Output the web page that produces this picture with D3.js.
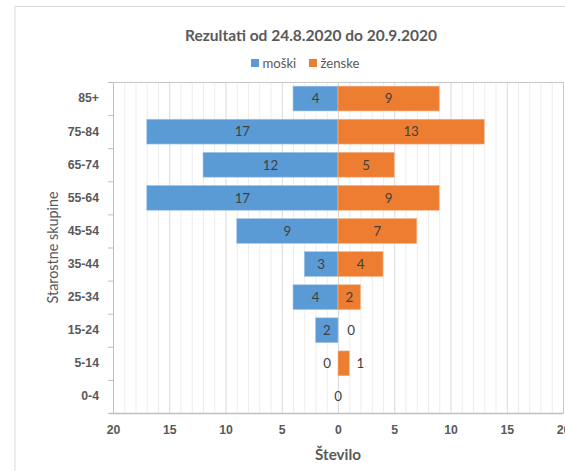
<!DOCTYPE html>
<html><head><meta charset="utf-8">
<script src="https://cdn.jsdelivr.net/npm/d3@7"></script>
<style>body{margin:0;background:#fff}svg{display:block;font-family:Lato,"Open Sans","Liberation Sans",sans-serif}</style>
</head><body><svg id="c" width="565" height="471"></svg>
<script>
const categories = ["85+","75-84","65-74","55-64","45-54","35-44","25-34","15-24","5-14","0-4"];
const moski  = [4,17,12,17,9,3,4,2,0,null];
const zenske = [9,13,5,9,7,4,2,0,1,0];
const xTicks = [-20,-15,-10,-5,0,5,10,15,20];
const title = "Rezultati od 24.8.2020 do 20.9.2020";
const seriesNames = ["moški","ženske"];
const colors = ["#5B9BD5","#ED7D31"];

const svg = d3.select("#c");
// font size so that a sample string reaches a given width
function fit(sample, weight, w){
  const t = svg.append("text").attr("font-size",100).attr("font-weight",weight).text(sample);
  const len = t.node().getComputedTextLength(); t.remove();
  return 100*w/len;
}
const fsTitle = fit(title,"bold",252);
const fsTick = fit("75-84","bold",33);
const fsLeg = fit("ženske","normal",39);
const fsLab = fit("17","normal",15.5);
const fsXT = fit("Število","bold",46);
const fsYT = fit("Starostne skupine","normal",112);

const L=113, R=563, T=82, B=413;
const x = d3.scaleLinear().domain([-20,20]).range([L,R]);
const y = d3.scaleBand().domain(categories).range([T,B]).paddingInner(0.25).paddingOuter(0.125);

// outer chart border
svg.append("rect").attr("x",15).attr("y",6.5).attr("width",600).attr("height",520)
  .attr("fill","none").attr("stroke","#d9d9d9");

// minor gridlines
svg.append("g").selectAll("line").data(d3.range(-20,21,1).filter(v=>v%5!==0)).join("line")
  .attr("x1",d=>x(d)+0.5).attr("x2",d=>x(d)+0.5).attr("y1",T).attr("y2",B).attr("stroke","#ededed");
// major gridlines
svg.append("g").selectAll("line").data(xTicks).join("line")
  .attr("x1",d=>x(d)+0.5).attr("x2",d=>x(d)+0.5).attr("y1",T).attr("y2",B).attr("stroke","#d9d9d9");
// plot border top/right
svg.append("path").attr("d",`M${L},${T+0.5}H${R+0.5}V${B}`).attr("fill","none").attr("stroke","#c8c8c8");

// bars
const data = categories.map((c,i)=>({c,m:moski[i],z:zenske[i]}));
svg.append("g").selectAll("rect").data(data.filter(d=>d.m)).join("rect")
  .attr("x",d=>x(-d.m)).attr("width",d=>x(0)-x(-d.m)).attr("y",d=>y(d.c)).attr("height",y.bandwidth())
  .attr("fill",colors[0]).attr("stroke","#a9c8e8").attr("stroke-width",0.6);
svg.append("g").selectAll("rect").data(data.filter(d=>d.z)).join("rect")
  .attr("x",x(0)).attr("width",d=>x(d.z)-x(0)).attr("y",d=>y(d.c)).attr("height",y.bandwidth())
  .attr("fill",colors[1]).attr("stroke","#f4b58a").attr("stroke-width",0.6);

// value labels
const lab = svg.append("g").attr("font-size",fsLab).attr("fill","#404040").attr("text-anchor","middle");
data.forEach(d=>{
  const cy = y(d.c)+y.bandwidth()/2+fsLab*0.36;
  if(d.m===null && d.z===0){ lab.append("text").attr("x",x(0)).attr("y",cy).text("0"); return; }
  if(d.m!==null){
    const cx = d.m>0 ? (x(-d.m)+x(0))/2 : x(0)-11;
    lab.append("text").attr("x",cx).attr("y",cy).text(d.m);
  }
  if(d.z!==null){
    const cx = d.z>0 ? (d.z===1 ? x(d.z)+11 : (x(0)+x(d.z))/2) : x(0)+13;
    lab.append("text").attr("x",cx).attr("y",cy).text(d.z);
  }
});

// left axis
const ya = svg.append("g").attr("transform",`translate(${L},0)`)
  .call(d3.axisLeft(y).tickSize(0).tickPadding(14));
ya.select(".domain").attr("stroke","#bfbfbf").attr("d",`M0.5,${T}V${B}`);
ya.selectAll("text").attr("font-size",fsTick).attr("font-weight","bold").attr("fill","#595959")
  .attr("font-family",null);
// category boundary ticks
svg.append("g").selectAll("line").data(d3.range(categories.length+1)).join("line")
  .attr("x1",L-5).attr("x2",L).attr("y1",i=>T+i*(B-T)/categories.length+0.5).attr("y2",i=>T+i*(B-T)/categories.length+0.5)
  .attr("stroke","#bfbfbf");

// bottom axis
const xa = svg.append("g").attr("transform",`translate(0,${B})`)
  .call(d3.axisBottom(x).tickValues(xTicks).tickFormat(d=>Math.abs(d)).tickSize(0).tickPadding(12));
xa.select(".domain").attr("stroke","#bfbfbf").attr("stroke-width",1.5).attr("d",`M${L-3},0.5H${R+0.5}`);
xa.selectAll("text").attr("font-size",fsTick).attr("font-weight","bold").attr("fill","#595959")
  .attr("font-family",null);

// title
svg.append("text").attr("x",311).attr("y",41).attr("text-anchor","middle")
  .attr("font-size",fsTitle).attr("font-weight","bold").attr("fill","#595959").text(title);

// legend
const lg = svg.append("g");
[[251,seriesNames[0],colors[0]],[309,seriesNames[1],colors[1]]].forEach(([lx,t,c])=>{
  lg.append("rect").attr("x",lx).attr("y",59).attr("width",8).attr("height",8).attr("fill",c);
  lg.append("text").attr("x",lx+11.5).attr("y",67.5).attr("font-size",fsLeg).attr("fill","#595959").text(t);
});

// axis titles
svg.append("text").attr("x",x(0)).attr("y",460).attr("text-anchor","middle")
  .attr("font-size",fsXT).attr("font-weight","bold").attr("fill","#595959").text("Število");
svg.append("text").attr("transform",`translate(58,${(T+B)/2}) rotate(-90)`).attr("text-anchor","middle")
  .attr("font-size",fsYT).attr("fill","#595959").text("Starostne skupine");
</script></body></html>
